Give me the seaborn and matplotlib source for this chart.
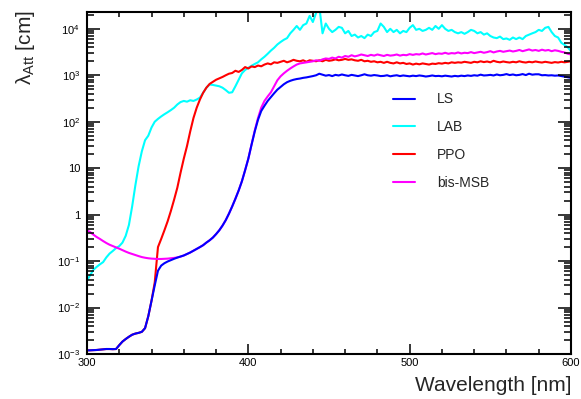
import numpy as np
import pandas as pd
import seaborn as sns
import matplotlib.pyplot as plt
from matplotlib.ticker import MultipleLocator, FixedLocator, FixedFormatter, LogLocator, NullFormatter

# wavelength grid in nm (2 nm steps)
wavelength = np.arange(300, 601, 2)

ls_att = [
    1.20e-3, 1.20e-3, 1.21e-3, 1.22e-3, 1.24e-3, 1.26e-3, 1.28e-3, 1.28e-3, 1.27e-3, 1.28e-3,
    1.55e-3, 1.85e-3, 2.10e-3, 2.35e-3, 2.60e-3, 2.75e-3, 2.85e-3, 3.00e-3, 3.60e-3, 6.5e-3,
    0.014, 0.030, 0.062, 0.080, 0.090, 0.098, 0.105, 0.112, 0.119, 0.125,
    0.132, 0.142, 0.153, 0.167, 0.183, 0.20, 0.22, 0.25, 0.28, 0.32,
    0.38, 0.46, 0.58, 0.76, 1.05, 1.5, 2.2, 3.3, 5.2, 9.0,
    16, 32, 62, 110, 170, 220, 280, 340, 410, 490,
    560, 640, 710, 760, 800, 830, 850, 880, 900, 930,
    960, 1000, 1080, 1030, 980, 1010, 960, 1020, 990, 1040,
    1000, 970, 1020, 990, 960, 1000, 1050, 1000, 980, 1010,
    990, 960, 970, 1000, 950, 980, 1000, 960, 990, 970,
    950, 980, 960, 990, 970, 940, 960, 990, 960, 970,
    950, 980, 960, 940, 970, 950, 980, 960, 990, 970,
    1000, 980, 1030, 990, 1000, 1020, 990, 1040, 1000, 1020,
    1060, 1010, 1040, 1000, 1020, 1060, 1010, 1080, 1030, 1050,
    1050, 1000, 1010, 990, 1000, 980, 990, 960, 930, 900,
    880,
]

lab_att = [
    0.038, 0.050, 0.065, 0.075, 0.085, 0.095, 0.12, 0.145, 0.165, 0.19,
    0.21, 0.25, 0.35, 0.60, 1.5, 4.3, 11, 23, 40, 50,
    75, 100, 115, 130, 145, 160, 178, 200, 235, 265,
    280, 270, 290, 280, 300, 330, 420, 540, 630, 620,
    600, 580, 540, 480, 420, 430, 580, 800, 1100, 1300,
    1450, 1600, 1750, 1900, 2200, 2500, 2900, 3400, 3900, 4600,
    5200, 5800, 6300, 8000, 9500, 11500, 9500, 12000, 13000, 19000,
    14000, 22000, 30000, 8000, 13000, 10000, 8500, 9500, 11000, 10500,
    8000, 9000, 7000, 7500, 6500, 7000, 6300, 7500, 7000, 8500,
    9000, 13000, 11000, 8500, 10000, 8500, 9500, 8000, 9000, 8500,
    10500, 12000, 9500, 10000, 9000, 9500, 10500, 9500, 11500, 10000,
    12000, 10000, 9000, 9500, 8500, 8000, 8500, 7800, 8500, 9500,
    9000, 8000, 8500, 7500, 8000, 7000, 6500, 6300, 6800, 6000,
    6200, 5800, 6500, 6000, 6500, 6000, 7000, 7500, 8000, 8500,
    9500, 9000, 10500, 11000, 8500, 7000, 6500, 5000, 4500, 4000,
    3300,
]

ppo_att = [
    1.20e-3, 1.20e-3, 1.21e-3, 1.22e-3, 1.24e-3, 1.26e-3, 1.28e-3, 1.28e-3, 1.27e-3, 1.28e-3,
    1.55e-3, 1.85e-3, 2.10e-3, 2.35e-3, 2.60e-3, 2.75e-3, 2.85e-3, 3.00e-3, 3.60e-3, 6.5e-3,
    0.014, 0.035, 0.20, 0.30, 0.46, 0.72, 1.2, 2.1, 3.8, 8.0,
    16, 30, 62, 120, 200, 300, 420, 540, 650, 720,
    800, 860, 920, 1000, 1080, 1120, 1250, 1180, 1300, 1500,
    1400, 1550, 1500, 1620, 1560, 1700, 1800, 1720, 1900, 1850,
    1950, 2050, 1900, 2000, 2150, 2050, 2000, 2100, 1950, 2100,
    2050, 2000, 2100, 2000, 2150, 2050, 2100, 2200, 2100, 2150,
    2250, 2150, 2200, 2100, 2050, 2150, 2000, 2050, 1950, 2000,
    1900, 1950, 1850, 1950, 1850, 1800, 1900, 1800, 1850, 1750,
    1800, 1700, 1780, 1720, 1800, 1750, 1700, 1780, 1750, 1820,
    1780, 1850, 1800, 1900, 1850, 1900, 1870, 1950, 1900, 1850,
    1950, 1900, 2000, 1920, 1980, 1900, 2050, 1950, 1900, 1980,
    1920, 1880, 1950, 1900, 2000, 1920, 1880, 1950, 1900, 1980,
    1920, 1880, 1950, 1900, 1850, 1920, 1880, 1950, 1900, 1950,
    2000,
]

msb_att = [
    0.46, 0.42, 0.37, 0.33, 0.30, 0.27, 0.245, 0.225, 0.21, 0.197,
    0.185, 0.172, 0.160, 0.150, 0.142, 0.135, 0.128, 0.122, 0.118, 0.115,
    0.113, 0.112, 0.111, 0.111, 0.112, 0.113, 0.115, 0.117, 0.120, 0.125,
    0.132, 0.142, 0.153, 0.167, 0.183, 0.20, 0.22, 0.25, 0.28, 0.32,
    0.38, 0.46, 0.58, 0.76, 1.05, 1.5, 2.2, 3.3, 5.2, 9.0,
    16, 32, 65, 120, 200, 280, 350, 430, 580, 780,
    950, 1100, 1250, 1400, 1550, 1700, 1800, 1850, 1900, 1950,
    2000, 2100, 2050, 2200, 2300, 2250, 2400, 2300, 2500, 2400,
    2600, 2500, 2700, 2550, 2650, 2800, 2700, 2600, 2750, 2650,
    2800, 2700, 2600, 2750, 2650, 2700, 2800, 2650, 2750, 2700,
    2850, 2750, 2850, 2800, 2950, 2800, 2900, 3000, 2850, 2950,
    2900, 3050, 2900, 3000, 2950, 3100, 2950, 3050, 3000, 3150,
    3000, 3100, 3200, 3050, 3150, 3300, 3100, 3250, 3350, 3200,
    3300, 3400, 3250, 3350, 3500, 3300, 3450, 3600, 3400, 3500,
    3350, 3550, 3400, 3500, 3300, 3450, 3350, 3200, 3100, 2900,
    2800,
]

legend_order = ["LS", "LAB", "PPO", "bis-MSB"]
draw_order = ["LAB", "PPO", "bis-MSB", "LS"]  # LS drawn last so it sits on top
colors = {"LS": "#0000ff", "LAB": "#00ffff", "PPO": "#ff0000", "bis-MSB": "#ff00ff"}

series = {"LS": ls_att, "LAB": lab_att, "PPO": ppo_att, "bis-MSB": msb_att}
frames = []
for name in draw_order:
    frames.append(pd.DataFrame({"wavelength": wavelength, "att": series[name], "sample": name}))
df = pd.concat(frames, ignore_index=True)

sns.set_style("ticks")
plt.rcParams["font.family"] = ["Liberation Sans", "DejaVu Sans"]
plt.rcParams["mathtext.fontset"] = "custom"
plt.rcParams["mathtext.rm"] = "Liberation Sans"
plt.rcParams["mathtext.it"] = "Liberation Sans:italic"
# ROOT-like ticks set globally, so every tick that gets created uses them
plt.rcParams.update({
    "axes.axisbelow": False,
    "xtick.direction": "in", "ytick.direction": "in",
    "xtick.top": True, "xtick.bottom": True, "ytick.left": True, "ytick.right": True,
    "xtick.color": "black", "ytick.color": "black",
    "xtick.major.size": 7.5, "xtick.minor.size": 3.8,
    "ytick.major.size": 9.5, "ytick.minor.size": 5,
    "xtick.major.width": 1.1, "xtick.minor.width": 1.1,
    "ytick.major.width": 1.1, "ytick.minor.width": 1.1,
    "xtick.major.pad": 3, "ytick.major.pad": 5,
    "xtick.labelsize": 8, "ytick.labelsize": 8,
})

fig = plt.figure(figsize=(5.81, 3.99), dpi=100)
ax = fig.add_axes([0.1497, 0.1128, 0.8331, 0.8571])

sns.lineplot(data=df, x="wavelength", y="att", hue="sample", hue_order=draw_order,
             palette=colors, linewidth=1.5, estimator=None, sort=False, ax=ax)

ax.set_yscale("log")
ax.set_xlim(300, 600)
ax.set_ylim(1e-3, 2.3e4)

# y ticks, ROOT style labels
y_ticks = [1e-3, 1e-2, 1e-1, 1, 10, 1e2, 1e3, 1e4]
y_labels = ["$10^{-3}$", "$10^{-2}$", "$10^{-1}$", "1", "10", "$10^{2}$", "$10^{3}$", "$10^{4}$"]
ax.yaxis.set_major_locator(FixedLocator(y_ticks))
ax.yaxis.set_major_formatter(FixedFormatter(y_labels))
ax.yaxis.set_minor_locator(LogLocator(base=10, subs=np.arange(2, 10), numticks=20))
ax.yaxis.set_minor_formatter(NullFormatter())

for sp in ax.spines.values():
    sp.set_linewidth(1.5)
    sp.set_color("black")

ax.set_xlabel("Wavelength [nm]", fontsize=15, loc="right")
ax.xaxis.set_label_coords(1.0, -0.065)
ax.set_ylabel(r"λ$_{\mathrm{Att}}$ [cm]", fontsize=15, loc="top")
ax.yaxis.set_label_coords(-0.103, 1.005)

handles, labels = ax.get_legend_handles_labels()
lookup = dict(zip(labels, handles))
ax.legend([lookup[k] for k in legend_order], legend_order, frameon=False,
          loc="upper left", bbox_to_anchor=(0.632, 0.765), fontsize=10,
          handlelength=1.6, handletextpad=1.6, labelspacing=1.0,
          borderpad=0, borderaxespad=0)

# x ticks: major every 100 nm, minor every 20 nm
ax.xaxis.set_major_locator(MultipleLocator(100))
ax.xaxis.set_minor_locator(MultipleLocator(20))

ax.tick_params(which="both", direction="in", top=True, right=True, bottom=True, left=True,
               color="black", width=1.1, labelsize=8)
ax.tick_params(axis="x", which="major", length=7.5, pad=3)
ax.tick_params(axis="x", which="minor", length=3.8)
ax.tick_params(axis="y", which="major", length=9.5, pad=5)
ax.tick_params(axis="y", which="minor", length=5)

# make sure the x tick marks really get drawn on both edges
fig.canvas.draw()
for ticks, size in [(ax.xaxis.get_major_ticks(), 7.5), (ax.xaxis.get_minor_ticks(), 3.8)]:
    for t in ticks:
        for ln in (t.tick1line, t.tick2line):
            ln.set_visible(True)
            ln.set_markersize(size)
            ln.set_markeredgewidth(1.1)
            ln.set_color("black")

fig.savefig("out.png", dpi=100)
